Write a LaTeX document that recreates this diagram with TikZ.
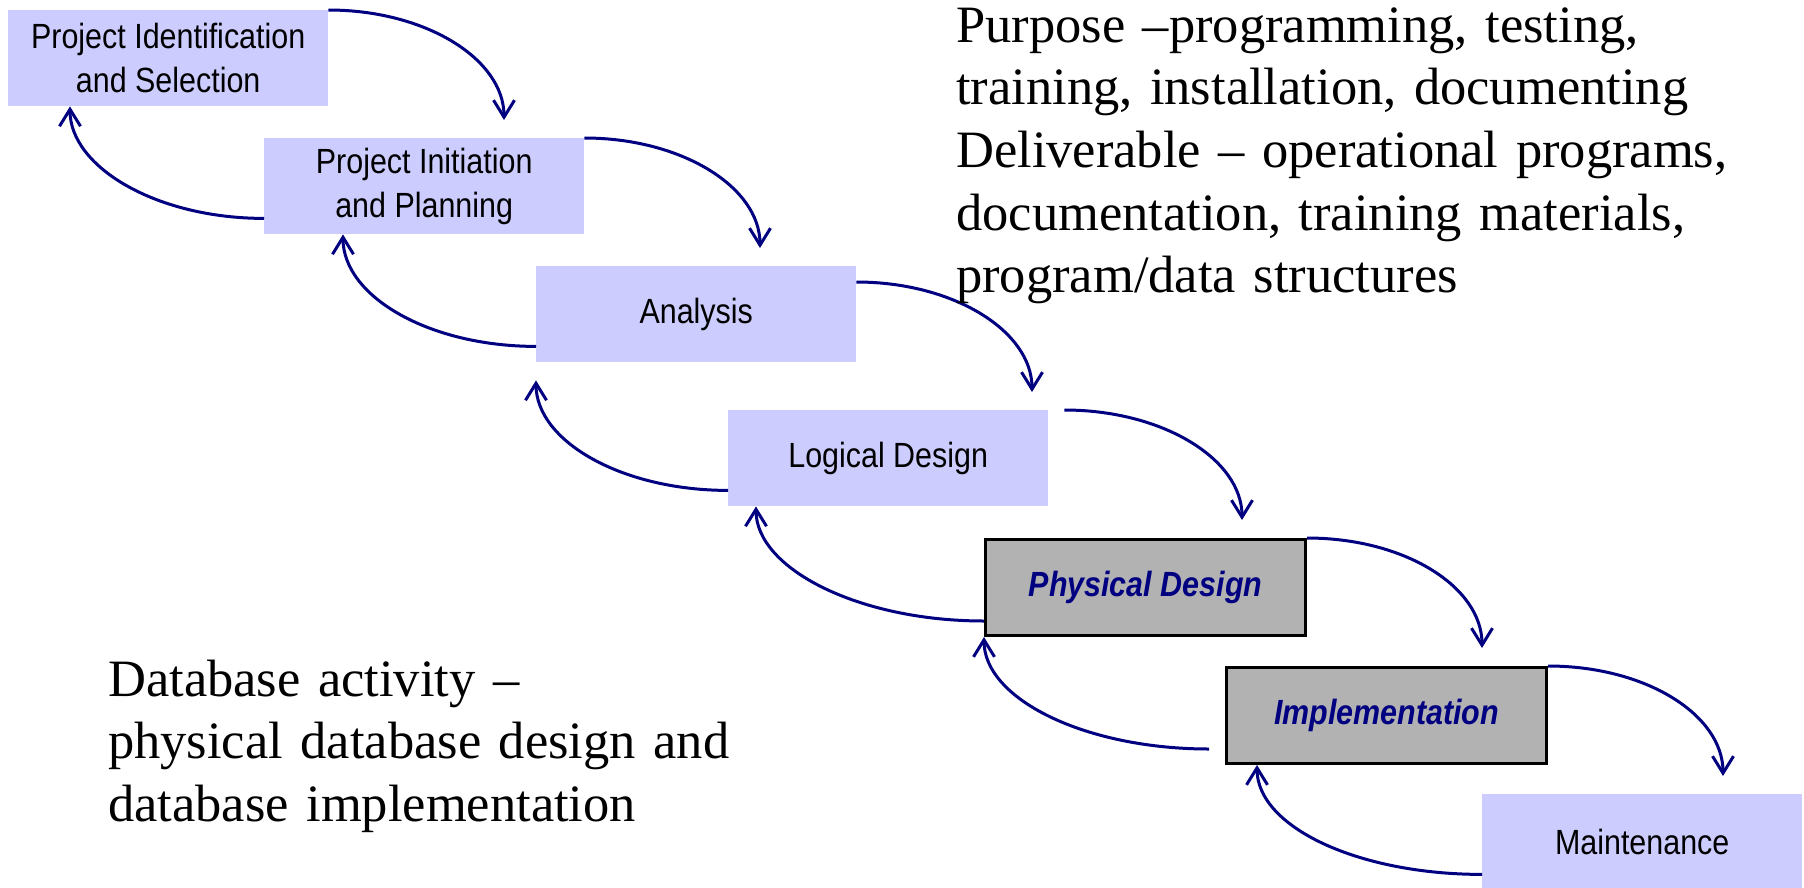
\documentclass[tikz,border=0pt]{standalone}
\usepackage{fontspec}
\setmainfont{Liberation Serif}
\newfontfamily\boxfont[FakeStretch=0.87]{Liberation Sans}
\usetikzlibrary{arrows.meta}
\definecolor{navyc}{RGB}{0,0,128}
\definecolor{lav}{RGB}{204,204,255}
\definecolor{greyc}{RGB}{178,178,178}
\begin{document}
\begin{tikzpicture}[x=1pt,y=-1pt,
  lbox/.style={fill=lav, minimum width=320pt, minimum height=96pt, inner sep=0pt,
    anchor=north west, align=center, font=\boxfont\fontsize{35}{44}\selectfont},
  gbox/.style={lbox, fill=greyc, draw=black, line width=3pt, text=navyc,
    font=\boxfont\bfseries\itshape\fontsize{35}{44}\selectfont},
  fwd/.style={draw=navyc, line width=3pt, -{Straight Barb[length=17pt,width=21pt]}},
  note/.style={anchor=base west, inner sep=0pt, text width=860pt, align=left,
    font=\fontsize{52.5}{62.7}\selectfont}]
\useasboundingbox (0,0) rectangle (1804,887);
\fill[white] (0,0) rectangle (1804,887);
% boxes
\node[lbox] (b1) at (8,10) {Project Identification\\and Selection};
\node[lbox] (b2) at (264,138) {Project Initiation\\and Planning};
\node[lbox] (b3) at (536,266) {Analysis};
\node[lbox] (b4) at (728,410) {Logical Design};
\node[gbox] (b5) at (984,538) {Physical Design};
\node[gbox] (b6) at (1225,666) {Implementation};
\node[lbox] (b7) at (1482,794) {Maintenance};
% forward arrows
\draw[fwd] (b1.north east) .. controls +(97,0) and +(0,-61) .. ([shift={(240,-18)}]b2.north west);
\draw[fwd] (b2.north east) .. controls +(97,0) and +(0,-61) .. ([shift={(224,-18)}]b3.north west);
\draw[fwd] ([shift={(0,16)}]b3.north east) .. controls +(97,0) and +(0,-61) .. ([shift={(304,-18)}]b4.north west);
\draw[fwd] ([shift={(16,0)}]b4.north east) .. controls +(98,0) and +(0,-61) .. ([shift={(258,-18)}]b5.north west);
\draw[fwd] (b5.north east) .. controls +(98,0) and +(0,-61) .. ([shift={(257,-18)}]b6.north west);
\draw[fwd] (b6.north east) .. controls +(98,0) and +(0,-61) .. ([shift={(241,-18)}]b7.north west);
% backward arrows
\draw[fwd] ([shift={(0,-16)}]b2.south west) .. controls +(-107,0) and +(0,61) .. ([shift={(62,0)}]b1.south west);
\draw[fwd] ([shift={(0,-16)}]b3.south west) .. controls +(-107,0) and +(0,62) .. ([shift={(79,0)}]b2.south west);
\draw[fwd] ([shift={(0,-16)}]b4.south west) .. controls +(-106,0) and +(0,61) .. ([shift={(0,18)}]b3.south west);
\draw[fwd] ([shift={(0,-16)}]b5.south west) .. controls +(-126,0) and +(0,62) .. ([shift={(28,0)}]b4.south west);
\draw[fwd] ([shift={(-16,-16)}]b6.south west) .. controls +(-124,0) and +(0,62) .. (b5.south west);
\draw[fwd] ([shift={(0,-16)}]b7.south west) .. controls +(-124,0) and +(0,62) .. ([shift={(32,0)}]b6.south west);
% texts
\node[note] (purpose) at (956,42) {Purpose –programming, testing,\\training, installation, documenting\\Deliverable – operational programs,\\documentation, training materials,\\program/data structures};
\node[note] (dbact) at (108,696) {Database activity –\\physical database design and\\database implementation};
\end{tikzpicture}
\end{document}
